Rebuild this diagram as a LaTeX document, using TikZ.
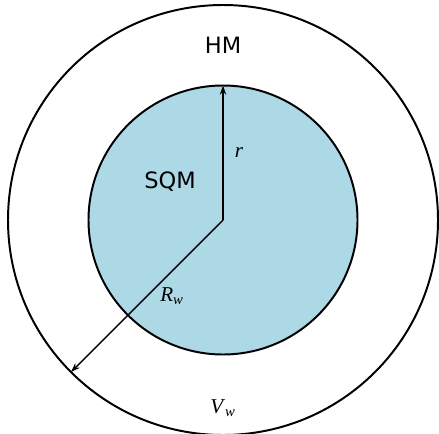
\documentclass[tikz,border=0pt]{standalone}
\usepackage{fontspec}
\setmainfont{Liberation Serif}
\setsansfont{DejaVu Sans}
\usetikzlibrary{arrows.meta,calc}
\definecolor{sqmblue}{RGB}{173,216,230}
\begin{document}
\begin{tikzpicture}[x=0.025cm, y=-0.025cm, >={Stealth[length=6.5pt,width=4.5pt]}]
    \useasboundingbox (0,0) rectangle (439,433);
    \clip (0,0) rectangle (439,433);

    \coordinate (c) at (223,220);
    \draw[line width=1.4pt] (c) circle[radius=215];
    \draw[line width=1.4pt, fill=sqmblue] (c) circle[radius=134.5];

    \coordinate (rtop) at (223,85.5);
    \coordinate (rwend) at ($(c)+(135:215)$);
    \draw[->, line width=1pt] (c) -- (rtop);
    \draw[->, line width=1pt] (c) -- (rwend);

    \node[font=\sffamily\fontsize{16}{19}\selectfont] (hm) at (223,45) {HM};
    \node[font=\sffamily\fontsize{16}{19}\selectfont] (sqm) at (170,182) {SQM};
    \node[font=\fontsize{15}{18}\selectfont] (rlab) at (239,153) {\textit{r}};
    \node[font=\fontsize{15}{18}\selectfont] (rwlab) at (172,296) {\textit{R}\textsubscript{\textit{w}}};
    \node[font=\fontsize{15}{18}\selectfont] (vwlab) at (223,408) {\textit{V}\textsubscript{\textit{w}}};
\end{tikzpicture}
\end{document}
